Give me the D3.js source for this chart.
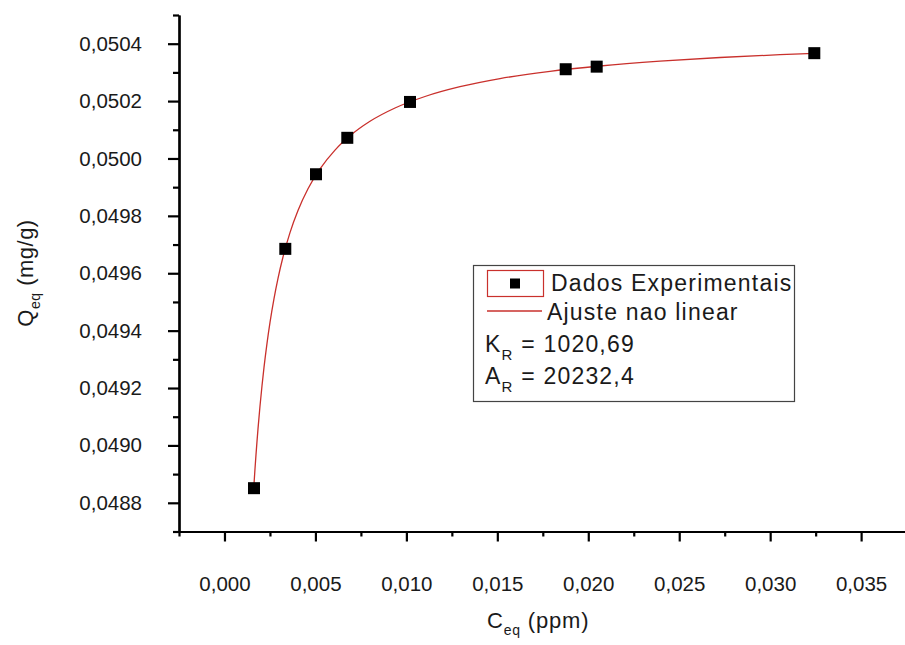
<!DOCTYPE html>
<html>
<head>
<meta charset="utf-8">
<script src="https://cdn.jsdelivr.net/npm/d3@7"></script>
<style>
  html, body { margin: 0; padding: 0; background: #fff; }
  svg { display: block; font-family: "Liberation Sans", Arial, sans-serif; }
</style>
</head>
<body>
<svg id="chart" width="905" height="645"></svg>
<script>
// ---- data ----
const ceqData = [0.001623, 0.003344, 0.005032, 0.006752, 0.010199, 0.018759, 0.020463, 0.032426];
const qeqData = [0.048851, 0.049685, 0.049945, 0.050072, 0.050197, 0.050311, 0.050320, 0.050367];

// fitted curve (Ajuste nao linear)
const fitC = [0.001623,0.001678,0.001733,0.001788,0.001843,0.001953,0.002063,0.002173,0.002338,0.002503,0.002723,0.002943,0.003217,0.003602,0.004042,0.004592,0.005252,0.006076,0.006901,0.008000,0.009375,0.011024,0.012948,0.015147,0.017896,0.020645,0.023943,0.027242,0.030540,0.032409];
const fitQ = [0.0488655,0.0489185,0.0489680,0.0490140,0.0490576,0.0491374,0.0492081,0.0492719,0.0493559,0.0494287,0.0495117,0.0495824,0.0496566,0.0497417,0.0498187,0.0498943,0.0499637,0.0500292,0.0500790,0.0501296,0.0501759,0.0502160,0.0502501,0.0502784,0.0503038,0.0503223,0.0503390,0.0503519,0.0503617,0.0503665];

const xTicks = [0.000, 0.005, 0.010, 0.015, 0.020, 0.025, 0.030, 0.035];
const xMinor = [-0.0025, 0.0025, 0.0075, 0.0125, 0.0175, 0.0225, 0.0275, 0.0325];
const yTicks = [0.0488, 0.0490, 0.0492, 0.0494, 0.0496, 0.0498, 0.0500, 0.0502, 0.0504];
const yMinor = [0.0487, 0.0489, 0.0491, 0.0493, 0.0495, 0.0497, 0.0499, 0.0501, 0.0503, 0.0505];

const legendLabels = ["Dados Experimentais", "Ajuste nao linear"];
const paramNames = ["K", "A"];
const paramValues = ["1020,69", "20232,4"];

// ---- drawing ----
const locale = d3.formatLocale({decimal: ",", thousands: ".", grouping: [3], currency: ["", ""]});
const fmtX = locale.format(".3f");
const fmtY = locale.format(".4f");

const svg = d3.select("#chart");
const x = d3.scaleLinear().domain([-0.0025, 0.0375]).range([179, 906.6]);
const y = d3.scaleLinear().domain([0.0487, 0.0505]).range([531.5, 15]);

const axisColor = "#000";
const textColor = "#1a1a1a";
const fitColor = "#c9302c";

// fit curve
const line = d3.line().x(d => x(d[0])).y(d => y(d[1])).curve(d3.curveMonotoneX);
svg.append("path")
  .datum(fitC.map((c, i) => [c, fitQ[i]]))
  .attr("d", line)
  .attr("fill", "none")
  .attr("stroke", fitColor)
  .attr("stroke-width", 1.3);

// data points
const ms = 12;
svg.append("g").selectAll("rect")
  .data(ceqData.map((c, i) => [c, qeqData[i]]))
  .join("rect")
  .attr("x", d => x(d[0]) - ms / 2)
  .attr("y", d => y(d[1]) - ms / 2)
  .attr("width", ms)
  .attr("height", ms)
  .attr("fill", "#000");

// axes
const gx = svg.append("g").attr("transform", `translate(0,${y.range()[0]})`);
gx.call(d3.axisBottom(x).tickValues(xTicks).tickFormat(fmtX).tickSize(10).tickSizeOuter(0).tickPadding(35));
const gxm = svg.append("g").attr("transform", `translate(0,${y.range()[0]})`);
gxm.call(d3.axisBottom(x).tickValues(xMinor).tickFormat("").tickSize(5).tickSizeOuter(0));

const gy = svg.append("g").attr("transform", `translate(${x.range()[0]},0)`);
gy.call(d3.axisLeft(y).tickValues(yTicks).tickFormat(fmtY).tickSize(11).tickSizeOuter(0).tickPadding(26));
const gym = svg.append("g").attr("transform", `translate(${x.range()[0]},0)`);
gym.call(d3.axisLeft(y).tickValues(yMinor).tickFormat("").tickSize(6).tickSizeOuter(0));

[gx, gxm, gy, gym].forEach(g => {
  g.selectAll(".domain").attr("stroke", axisColor).attr("stroke-width", 2.2);
  g.selectAll(".tick line").attr("stroke", axisColor).attr("stroke-width", 2.2);
  g.selectAll(".tick text").attr("fill", textColor).attr("font-size", 20.5)
    .attr("font-family", "'Liberation Sans', Arial, sans-serif");
});

// axis titles
const xt = svg.append("text")
  .attr("x", 487).attr("y", 628)
  .attr("font-size", 22).attr("letter-spacing", 0.8).attr("fill", textColor);
xt.append("tspan").text("C");
xt.append("tspan").attr("font-size", 14).attr("dy", 7).text("eq");
xt.append("tspan").attr("dy", -7).text(" (ppm)");

const yt = svg.append("text")
  .attr("transform", "translate(33,273) rotate(-90)")
  .attr("text-anchor", "middle")
  .attr("font-size", 22).attr("letter-spacing", 0.5).attr("fill", textColor);
yt.append("tspan").text("Q");
yt.append("tspan").attr("font-size", 14).attr("dy", 7).text("eq");
yt.append("tspan").attr("dy", -7).text(" (mg/g)");

// legend
const lg = svg.append("g");
lg.append("rect")
  .attr("x", 473.5).attr("y", 265.5).attr("width", 321).attr("height", 136)
  .attr("fill", "#fff").attr("stroke", "#444").attr("stroke-width", 1.2);
lg.append("rect")
  .attr("x", 487.5).attr("y", 270.5).attr("width", 56).attr("height", 26)
  .attr("fill", "none").attr("stroke", fitColor).attr("stroke-width", 1.2);
lg.append("rect")
  .attr("x", 515 - 5).attr("y", 283.5 - 5).attr("width", 10).attr("height", 10)
  .attr("fill", "#000");
lg.append("line")
  .attr("x1", 487).attr("x2", 542).attr("y1", 311).attr("y2", 311)
  .attr("stroke", fitColor).attr("stroke-width", 1.3);

const legendFont = 23;
const legendSpacing = 1.2;
lg.selectAll("text.lab")
  .data(legendLabels)
  .join("text")
  .attr("class", "lab")
  .attr("x", (d, i) => i === 0 ? 551 : 547)
  .attr("y", (d, i) => i === 0 ? 291 : 320)
  .attr("font-size", legendFont).attr("letter-spacing", legendSpacing).attr("fill", textColor)
  .text(d => d);

paramNames.forEach((n, i) => {
  const t = lg.append("text")
    .attr("x", 485).attr("y", 352 + i * 31.5)
    .attr("font-size", legendFont).attr("letter-spacing", legendSpacing).attr("fill", textColor);
  t.append("tspan").text(n);
  t.append("tspan").attr("font-size", 15).attr("dy", 8).text("R");
  t.append("tspan").attr("dy", -8).text(" = " + paramValues[i]);
});
</script>
</body>
</html>
